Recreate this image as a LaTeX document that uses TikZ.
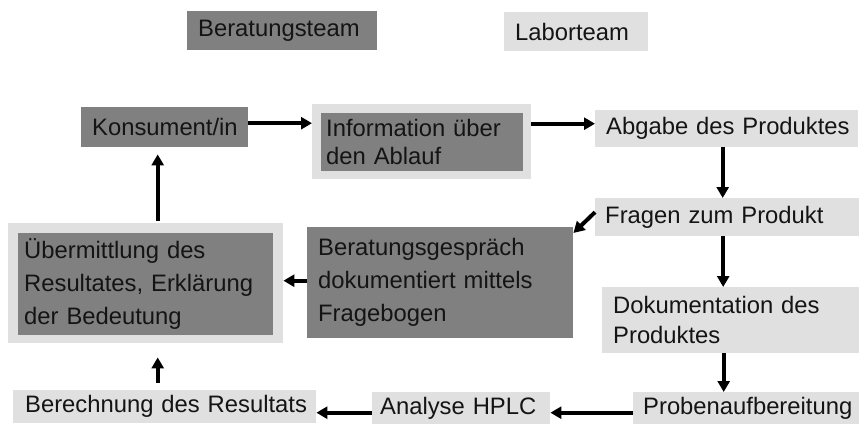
\documentclass[tikz,border=0pt]{standalone}
\usepackage{fontspec}
\setmainfont{Liberation Sans}
\usetikzlibrary{arrows.meta}
\definecolor{darkbox}{HTML}{808080}
\definecolor{lightbox}{HTML}{E0E0E0}
\definecolor{txt}{HTML}{141414}
\newcommand{\oneline}[1]{\mbox{#1}}
\tikzset{
  base/.style={anchor=north west, rectangle, inner ysep=0pt, inner xsep=11pt, align=left,
    text=txt, font=\fontsize{23.8}{33}\selectfont},
  darkb/.style={base, fill=darkbox},
  lightb/.style={base, fill=lightbox},
  frame/.style={anchor=north west, rectangle, fill=lightbox, inner sep=0pt},
  arr/.style={line width=4pt, -{Triangle[width=12pt,length=11pt]}, black}
}
\begin{document}
\begin{tikzpicture}[x=1pt,y=-1pt]
\useasboundingbox (0,0) rectangle (859,423);
% legend
\node[darkb, minimum width=190, minimum height=39, text width=168] (leg1) at (187,11) {\oneline{Beratungsteam}};
\node[lightb, minimum width=144, minimum height=39, text width=122] (leg2) at (504,12) {\oneline{Laborteam}};
% top row
\node[darkb, minimum width=167, minimum height=40, text width=145] (kons) at (81,107) {\oneline{Konsument/in}};
\node[frame, minimum width=219, minimum height=75] (infoout) at (312,104) {};
\node[darkb, inner xsep=5pt, minimum width=202, minimum height=58, text width=192,
  font=\fontsize{23.8}{28}\selectfont] (info) at (321,113) {\oneline{Information über}\\\oneline{den Ablauf}};
\node[lightb, minimum width=263, minimum height=37, text width=241] (abg) at (595,110) {\oneline{Abgabe des Produktes}};
% second
\node[lightb, inner xsep=10pt, minimum width=264, minimum height=38, text width=244] (frag) at (595,198) {\oneline{Fragen zum Produkt}};
\node[frame, minimum width=275, minimum height=120] (uebout) at (8,223) {};
\node[darkb, inner xsep=6pt, minimum width=255, minimum height=102, text width=243] (ueb) at (18,233) {\oneline{Übermittlung des}\\\oneline{Resultates, Erklärung}\\\oneline{der Bedeutung}};
\node[darkb, minimum width=266, minimum height=111, text width=244] (ber) at (307,227) {\oneline{Beratungsgespräch}\\\oneline{dokumentiert mittels}\\\oneline{Fragebogen}};
\node[lightb, minimum width=257, minimum height=66, text width=235,
  font=\fontsize{23.8}{30}\selectfont] (doku) at (602,287) {\oneline{Dokumentation des}\\\oneline{Produktes}};
% bottom
\node[lightb, inner xsep=10pt, minimum width=226, minimum height=33, text width=206] (probe) at (633,392) {\oneline{Probenaufbereitung}};
\node[lightb, inner xsep=8pt, minimum width=178, minimum height=33, text width=162] (ana) at (372,392) {\oneline{Analyse HPLC}};
\node[lightb, inner xsep=12pt, minimum width=303, minimum height=33, text width=279] (bere) at (13,390) {\oneline{Berechnung des Resultats}};
% arrows
\draw[arr] ([yshift=4pt]kons.east) -- ([yshift=4pt]kons.east -| infoout.west);
\draw[arr] ([yshift=5pt]abg.west -| infoout.east) -- ([yshift=5pt]abg.west);
\draw[arr] ([xshift=-4pt]abg.south) -- ([xshift=-4pt]abg.south |- frag.north);
\draw[arr] ([yshift=5pt]frag.west) -- ([yshift=-6pt]ber.north east);
\draw[arr] ([xshift=-4pt]frag.south) -- ([xshift=-4pt]frag.south |- doku.north);
\draw[arr] ([xshift=-7pt]doku.south) -- ([xshift=-7pt]doku.south |- probe.north);
\draw[arr] ([yshift=-4pt]probe.west) -- ([yshift=-4pt]probe.west -| ana.east);
\draw[arr] ([yshift=-4pt]ana.west) -- ([yshift=-4pt]ana.west -| bere.east);
\draw[arr] ([yshift=2pt]ber.west) -- ([yshift=2pt]ber.west -| uebout.east);
\draw[arr, shorten <=7pt, shorten >=14pt] ([xshift=-7pt]bere.north) -- ([xshift=-7pt]bere.north |- uebout.south);
\draw[arr, shorten <=2pt, shorten >=7pt] ([xshift=-7pt]bere.north |- uebout.north) -- ([xshift=-7pt]bere.north |- kons.south);
\end{tikzpicture}
\end{document}
